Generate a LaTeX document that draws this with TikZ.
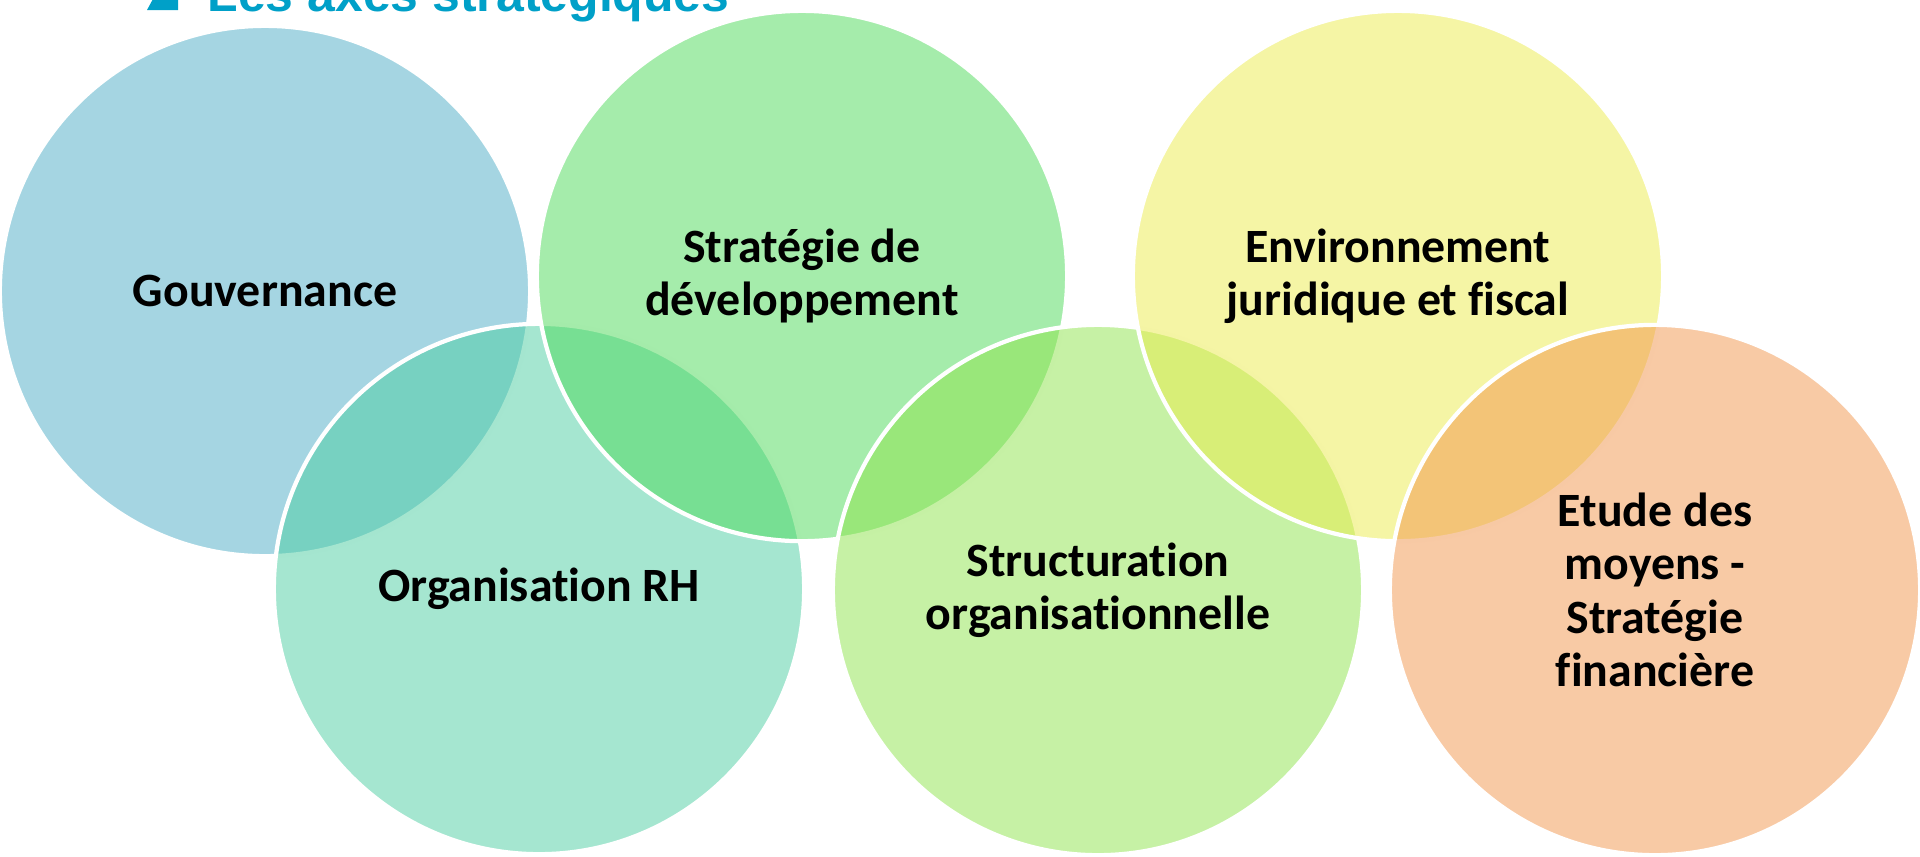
\documentclass[tikz,border=0pt]{standalone}
\usepackage{fontspec}
\setmainfont{Carlito}[Ligatures=NoCommon]
\newfontfamily\titlefont{Liberation Sans}
\usepackage{xcolor}
\usetikzlibrary{ calc, positioning }
\definecolor{titleblue}{RGB}{0,160,200}
\definecolor{axeGouv}{RGB}{75,172,198}
\definecolor{axeOrg}{RGB}{75,205,161}
\definecolor{axeStrat}{RGB}{75,217,87}
\definecolor{axeStruct}{RGB}{141,227,75}
\definecolor{axeEnv}{RGB}{235,235,75}
\definecolor{axeEtude}{RGB}{241,149,75}
\tikzset{
axe/.style={circle, minimum size=5.3cm, inner sep=0pt, draw=white, line width=1.2pt}, % one ring of the chain
every node/.style={align=center}, % centred lines
shade/.style={fill opacity=0.5, text opacity=1}, % lets the rings show through each other
label font/.style={font=\bfseries\fontsize{13.6}{15.2}\selectfont},
}

\begin{document}
\begin{tikzpicture}[x=0.01cm, y=-0.01cm]%one unit is one pixel of the slide
  \clip (0,0) rectangle (1920,856);

  % heading, cut by the top edge
  \fill[titleblue] (147,10) -- (178,10) -- (178,-47) -- cycle;
  \node[anchor=base west, inner sep=0pt, text=titleblue, font=\titlefont\bfseries\fontsize{14.2}{17}\selectfont] (titre) at (207,11.5) {Les axes stratégiques};

  % rings, drawn in zigzag order so each one lies over the one before
  \node[axe, shade, label font, fill=axeGouv] (gouv) at (265,291) {Gouvernance};
  \node[axe, shade, label font, fill=axeOrg] (org) at (539,589) {Organisation RH};
  \node[axe, shade, label font, fill=axeStrat] (strat) at (802,276) {Stratégie de\\développement};
  \node[axe, shade, label font, fill=axeStruct] (struct) at (1098,590) {Structuration\\organisationnelle};
  \node[axe, shade, label font, fill=axeEnv] (env) at (1398,276) {Environnement\\juridique et fiscal};
  \node[axe, shade, label font, fill=axeEtude] (etude) at (1655,590) {Etude des\\moyens -\\Stratégie\\financière};
\end{tikzpicture}
\end{document}
